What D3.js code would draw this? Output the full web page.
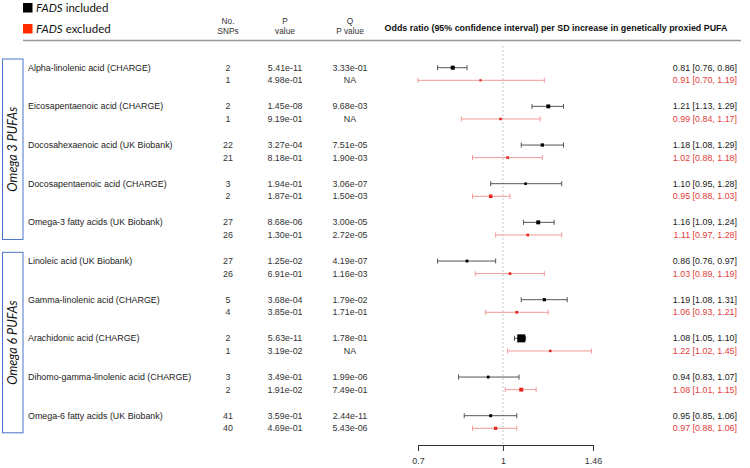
<!DOCTYPE html>
<html><head><meta charset="utf-8">
<script src="https://cdn.jsdelivr.net/npm/d3@7"></script>
<style>body{margin:0;background:#fff}svg{display:block}</style>
</head><body><svg id="c" width="750" height="468"></svg>
<script>
const studies = ["Alpha-linolenic acid (CHARGE)","Eicosapentaenoic acid (CHARGE)","Docosahexaenoic acid (UK Biobank)","Docosapentaenoic acid (CHARGE)","Omega-3 fatty acids (UK Biobank)","Linoleic acid (UK Biobank)","Gamma-linolenic acid (CHARGE)","Arachidonic acid (CHARGE)","Dihomo-gamma-linolenic acid (CHARGE)","Omega-6 fatty acids (UK Biobank)"];
const groups = [{name:"Omega 3 PUFAs", from:0, to:4},{name:"Omega 6 PUFAs", from:5, to:9}];
const series = ["FADS included","FADS excluded"];
// FADS included
const incSNPs = [2,2,22,3,27,27,5,2,3,41];
const incP = ["5.41e-11","1.45e-08","3.27e-04","1.94e-01","8.68e-06","1.25e-02","3.68e-04","5.63e-11","3.49e-01","3.59e-01"];
const incQ = ["3.33e-01","9.68e-03","7.51e-05","3.06e-07","3.00e-05","4.19e-07","1.79e-02","1.78e-01","1.99e-06","2.44e-11"];
const incOR = [0.81,1.21,1.18,1.10,1.16,0.86,1.19,1.08,0.94,0.95];
const incLo = [0.76,1.13,1.08,0.95,1.09,0.76,1.08,1.05,0.83,0.85];
const incHi = [0.86,1.29,1.29,1.28,1.24,0.97,1.31,1.10,1.07,1.06];
// FADS excluded
const excSNPs = [1,1,21,2,26,26,4,1,2,40];
const excP = ["4.98e-01","9.19e-01","8.18e-01","1.87e-01","1.30e-01","6.91e-01","3.85e-01","3.19e-02","1.91e-02","4.69e-01"];
const excQ = ["NA","NA","1.90e-03","1.50e-03","2.72e-05","1.16e-03","1.71e-01","NA","7.49e-01","5.43e-06"];
const excOR = [0.91,0.99,1.02,0.95,1.11,1.03,1.06,1.22,1.08,0.97];
const excLo = [0.70,0.84,0.88,0.88,0.97,0.89,0.93,1.02,1.01,0.88];
const excHi = [1.19,1.17,1.18,1.03,1.28,1.19,1.21,1.45,1.15,1.06];
const axisTicks = [0.7,1,1.46];

const svg = d3.select("#c");
const FONT = "'Liberation Sans', Arial, sans-serif";
const RED = "#e8261c", REDTXT = "#e2403a", REDLINE = "#f19a96", GRAYLINE = "#555";

const x = d3.scaleLog().domain([0.7,1.46]).range([418,593]);
const y = d3.scalePoint().domain(studies).range([67.7,415.7]);
const OFF = 12.6;

const rows = [];
studies.forEach((s,i)=>{
  rows.push({s, i, k:0, snp:incSNPs[i], p:incP[i], q:incQ[i], or:incOR[i], lo:incLo[i], hi:incHi[i], y:y(s)});
  rows.push({s, i, k:1, snp:excSNPs[i], p:excP[i], q:excQ[i], or:excOR[i], lo:excLo[i], hi:excHi[i], y:y(s)+OFF});
});
// marker size from precision (inverse CI width on log scale)
const prec = rows.map(r=>1/(Math.log(r.hi)-Math.log(r.lo)));
const sz = d3.scaleLinear().domain(d3.extent(prec)).range([2.2,8]);
rows.forEach((r,j)=>r.size=sz(prec[j]));

// legend
const leg = svg.append("g");
series.forEach((s,k)=>{
  const yy = 3 + k*21;
  leg.append("rect").attr("x",23).attr("y",yy).attr("width",9.5).attr("height",9.5).attr("fill",k?"#ff2a00":"#000");
  const t = leg.append("text").attr("x",36).attr("y",yy+9).attr("font-family","Lato, 'Open Sans', sans-serif").attr("font-size",11.5).attr("fill","#111");
  const parts = s.split(" ");
  t.append("tspan").attr("font-style","italic").text(parts[0]);
  t.append("tspan").text(" "+parts.slice(1).join(" "));
});

// headers
const hdr = svg.append("g").attr("font-family",FONT).attr("font-size",8.3).attr("fill","#333").attr("text-anchor","middle");
[[228,"No.","SNPs"],[285,"P","value"],[350,"Q","P value"]].forEach(([cx,a,b])=>{
  hdr.append("text").attr("x",cx).attr("y",23.5).text(a);
  hdr.append("text").attr("x",cx).attr("y",34).text(b);
});
svg.append("text").attr("x",556).attr("y",30.5).attr("text-anchor","middle").attr("font-family",FONT)
  .attr("font-size",8.9).attr("font-weight","bold").attr("fill","#111")
  .text("Odds ratio (95% confidence interval) per SD increase in genetically proxied PUFA");
svg.append("line").attr("x1",23).attr("x2",741).attr("y1",40.5).attr("y2",40.5).attr("stroke","#999").attr("stroke-width",1.6);

// group boxes
groups.forEach(g=>{
  const top = y(studies[g.from]) - 8.7, bot = y(studies[g.to]) + OFF + 4.5;
  svg.append("rect").attr("x",2.5).attr("y",top).attr("width",20.5).attr("height",bot-top)
    .attr("fill","none").attr("stroke","#4a74c9").attr("stroke-width",1);
  svg.append("text").attr("transform",`translate(17,${(top+bot)/2}) rotate(-90)`).attr("text-anchor","middle")
    .attr("font-family","Lato, 'Open Sans', sans-serif").attr("font-style","italic").attr("font-size",12.5).attr("fill","#111").text(g.name);
});

// reference line
svg.append("line").attr("x1",x(1)).attr("x2",x(1)).attr("y1",46).attr("y2",445).attr("stroke","#c8c8c8").attr("stroke-width",1).attr("stroke-dasharray","2,2");

// row texts
const tg = svg.append("g").attr("font-family",FONT).attr("font-size",8.9);
studies.forEach(s=>{
  tg.append("text").attr("x",28).attr("y",y(s)).attr("dy","0.35em").attr("fill","#222").text(s);
});
rows.forEach(r=>{
  tg.append("text").attr("x",228).attr("y",r.y).attr("dy","0.35em").attr("text-anchor","middle").attr("fill","#333").text(r.snp);
  tg.append("text").attr("x",285).attr("y",r.y).attr("dy","0.35em").attr("text-anchor","middle").attr("fill","#333").text(r.p);
  tg.append("text").attr("x",350).attr("y",r.y).attr("dy","0.35em").attr("text-anchor","middle").attr("fill","#333").text(r.q);
  tg.append("text").attr("x",737).attr("y",r.y).attr("dy","0.35em").attr("text-anchor","end").attr("fill",r.k?REDTXT:"#222")
    .text(`${r.or.toFixed(2)} [${r.lo.toFixed(2)}, ${r.hi.toFixed(2)}]`);
});

// CIs
const cg = svg.append("g");
rows.forEach(r=>{
  const lc = r.k ? REDLINE : GRAYLINE;
  cg.append("line").attr("x1",x(r.lo)).attr("x2",x(r.hi)).attr("y1",r.y).attr("y2",r.y).attr("stroke",lc).attr("stroke-width",1);
  [r.lo,r.hi].forEach(v=>cg.append("line").attr("x1",x(v)).attr("x2",x(v)).attr("y1",r.y-2.5).attr("y2",r.y+2.5).attr("stroke",lc).attr("stroke-width",1));
  cg.append("rect").attr("x",x(r.or)-r.size/2).attr("y",r.y-r.size/2).attr("width",r.size).attr("height",r.size)
    .attr("fill",r.k?RED:"#000");
});

// axis
const ax = svg.append("g").attr("transform","translate(0,445)")
  .call(d3.axisBottom(x).tickValues(axisTicks).tickFormat(d=>String(d)).tickSize(6).tickSizeOuter(0));
ax.select(".domain").attr("stroke","#333");
ax.selectAll(".tick line").attr("stroke","#333");
ax.selectAll(".tick text").attr("font-family",FONT).attr("font-size",8.9).attr("fill","#333").attr("dy","1.1em");
</script></body></html>
